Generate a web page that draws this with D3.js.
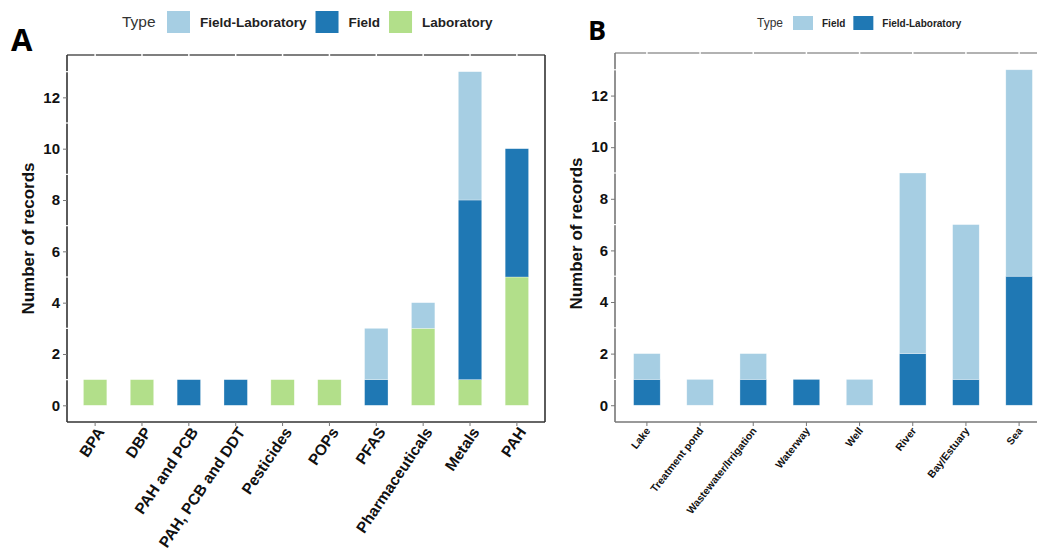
<!DOCTYPE html>
<html><head><meta charset="utf-8">
<script src="https://cdn.jsdelivr.net/npm/d3@7"></script>
<style>body{margin:0;background:#fff}svg{display:block;font-family:"Liberation Sans",Arial,sans-serif}</style>
</head><body><svg id="c" width="1037" height="556"></svg>
<script>
// ---- data ----
const catsA = ["BPA","DBP","PAH and PCB","PAH, PCB and DDT","Pesticides","POPs","PFAS","Pharmaceuticals","Metals","PAH"];
const labA      = [1,1,0,0,1,1,0,3,1,5];
const fieldA    = [0,0,1,1,0,0,1,0,7,5];
const fieldLabA = [0,0,0,0,0,0,2,1,5,0];
const catsB = ["Lake","Treatment pond","Wastewater/Irrigation","Waterway","Well","River","Bay/Estuary","Sea"];
const fieldLabB = [1,0,1,1,0,2,1,5];
const fieldB    = [1,1,1,0,1,7,6,8];
const yTicks = [0,2,4,6,8,10,12];
const legendA = ["Field-Laboratory","Field","Laboratory"];
const legendB = ["Field","Field-Laboratory"];

const LIGHT="#a6cee3", DARK="#1f78b4", GREEN="#b2df8a";
const svg = d3.select("#c");

function panel(o){
  const g = svg.append("g");
  const rows = o.cats.map((c,i)=>{const r={cat:c}; o.keys.forEach((k,j)=>r[k]=o.vals[j][i]); return r;});
  const stack = d3.stack().keys(o.keys)(rows);
  const x = d3.scaleBand().domain(o.cats).range([o.x0,o.x1]).paddingInner(0.5).paddingOuter(0.35);
  const y = d3.scaleLinear().domain([-0.65,13.65]).range([o.y1,o.y0]);
  // bars
  stack.forEach(s=>{
    g.selectAll(null).data(s.filter(d=>d[1]>d[0])).join("rect")
      .attr("x",d=>x(d.data.cat)).attr("width",x.bandwidth())
      .attr("y",d=>y(d[1])).attr("height",d=>y(d[0])-y(d[1]))
      .attr("fill",o.colors[s.key]).attr("stroke","#ffffff").attr("stroke-opacity",0.5).attr("stroke-width",0.6);
  });
  // frame lines
  g.append("line").attr("x1",o.x0).attr("x2",o.x1).attr("y1",o.y0).attr("y2",o.y0).attr("stroke",o.topCol).attr("stroke-width",1.6);
  g.append("line").attr("x1",o.x0).attr("x2",o.x0).attr("y1",o.y0).attr("y2",o.y1).attr("stroke",o.leftCol).attr("stroke-width",1.6);
  g.append("line").attr("x1",o.x0).attr("x2",o.x1).attr("y1",o.y1).attr("y2",o.y1).attr("stroke",o.leftCol).attr("stroke-width",1.6);
  g.append("line").attr("x1",o.x1).attr("x2",o.x1).attr("y1",o.y0).attr("y2",o.y1).attr("stroke",o.leftCol).attr("stroke-width",1.6);
  // white gaps on top border at category centres
  g.selectAll(null).data(o.cats).join("line")
    .attr("x1",d=>x(d)+x.bandwidth()/2).attr("x2",d=>x(d)+x.bandwidth()/2)
    .attr("y1",o.y0-1.5).attr("y2",o.y0+1.5).attr("stroke","#fff").attr("stroke-width",1.5);
  // white gaps on left axis at odd values
  g.selectAll(null).data(d3.range(1,14,2)).join("line")
    .attr("x1",o.x0-1.5).attr("x2",o.x0+1.5).attr("y1",d=>y(d)).attr("y2",d=>y(d)).attr("stroke","#fff").attr("stroke-width",1.2);
  // y axis
  const ya = g.append("g").attr("transform",`translate(${o.x0},0)`)
    .call(d3.axisLeft(y).tickValues(yTicks).tickSize(4).tickPadding(3));
  ya.select(".domain").remove();
  ya.selectAll(".tick line").attr("stroke","#777");
  ya.selectAll(".tick text").attr("font-size",15).attr("font-weight","bold").attr("fill","#111")
    .attr("font-family",'"Liberation Sans",Arial,sans-serif');
  // x axis
  const xa = g.append("g").attr("transform",`translate(0,${o.y1})`)
    .call(d3.axisBottom(x).tickSize(4).tickPadding(4));
  xa.select(".domain").remove();
  xa.selectAll(".tick line").attr("stroke","#777");
  xa.selectAll(".tick text").attr("font-size",o.xfs).attr("font-weight","bold").attr("fill","#111")
    .attr("font-family",'"Liberation Sans",Arial,sans-serif')
    .attr("text-anchor","end").attr("dy",0).attr("y",0)
    .attr("transform",`translate(${o.xdx},${o.xdy}) rotate(${-o.ang})`);
  // y title
  g.append("text").attr("transform",`translate(${o.tx},${(o.y0+o.y1)/2 - o.tyOff}) rotate(-90)`)
    .attr("text-anchor","middle").attr("font-size",17).attr("font-weight","bold").attr("fill","#111")
    .text("Number of records");
  // panel letter
  g.append("text").attr("x",o.lx).attr("y",o.ly).attr("font-size",o.lfs).attr("font-weight","bold")
    .attr("font-family",'"Open Sans","DejaVu Sans",sans-serif').attr("fill","#000").text(o.letter);
  // legend
  const lg = g.append("g");
  lg.append("text").attr("x",o.leg.x).attr("y",o.leg.y+o.leg.h/2).attr("dy","0.35em")
    .attr("font-size",o.leg.tfs).attr("fill","#333").text("Type");
  let cx = o.leg.x + o.leg.typeW;
  o.leg.items.forEach(k=>{
    lg.append("rect").attr("x",cx).attr("y",o.leg.y).attr("width",o.leg.w).attr("height",o.leg.h).attr("fill",o.colors[k]);
    const t = lg.append("text").attr("x",cx+o.leg.w+o.leg.gap).attr("y",o.leg.y+o.leg.h/2).attr("dy","0.35em")
      .attr("font-size",o.leg.fs).attr("font-weight","bold").attr("fill","#222").text(k);
    cx += o.leg.w + o.leg.gap + t.node().getComputedTextLength() + o.leg.after;
  });
}

panel({cats:catsA, keys:["Laboratory","Field","Field-Laboratory"], vals:[labA,fieldA,fieldLabA],
  colors:{"Laboratory":GREEN,"Field":DARK,"Field-Laboratory":LIGHT},
  x0:67,x1:545,y0:55,y1:422, topCol:"#555", leftCol:"#333",
  xfs:15.5, ang:56, xdx:10, xdy:10, tx:34, tyOff:0,
  letter:"A", lx:11, ly:51, lfs:31,
  leg:{x:122,y:11,w:23,h:22,typeW:45,gap:10,after:9,fs:13.5,tfs:15.5,items:legendA}});

panel({cats:catsB, keys:["Field-Laboratory","Field"], vals:[fieldLabB,fieldB],
  colors:{"Field":LIGHT,"Field-Laboratory":DARK},
  x0:615,x1:1051,y0:53,y1:422, topCol:"#999", leftCol:"#777",
  xfs:10.5, ang:52, xdx:4, xdy:9, tx:582, tyOff:4,
  letter:"B", lx:588, ly:40, lfs:27,
  leg:{x:757,y:16,w:20,h:14,typeW:36,gap:9,after:8,fs:10,tfs:12,items:legendB}});
</script></body></html>
